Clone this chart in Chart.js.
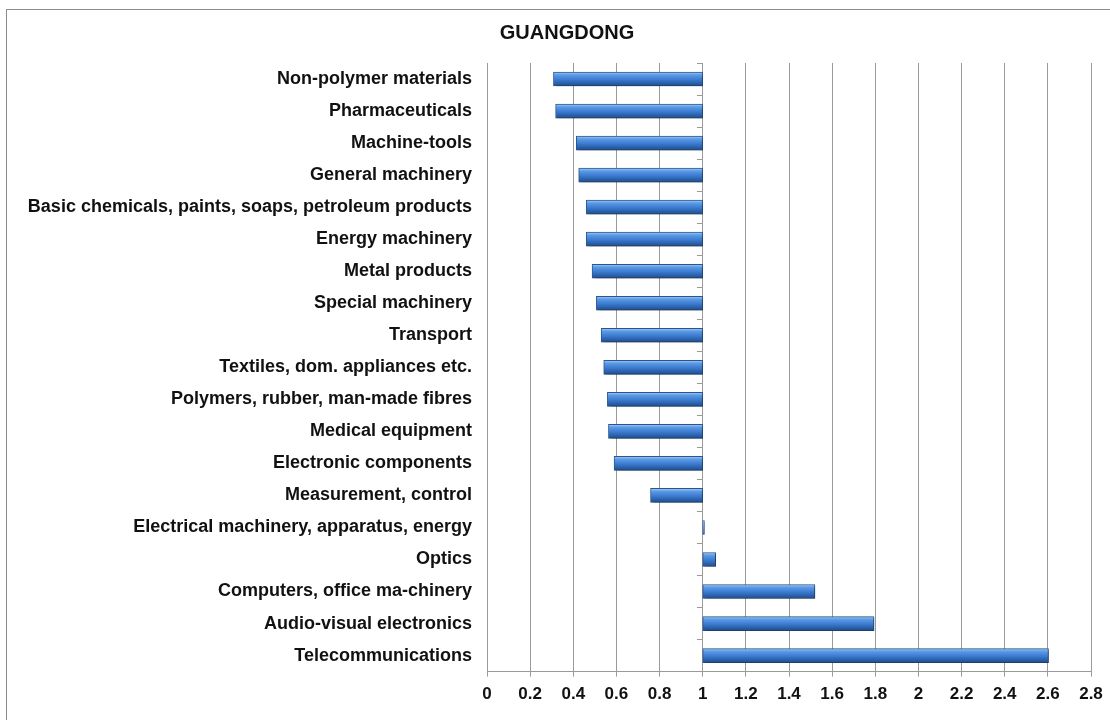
<!DOCTYPE html>
<html>
<head>
<meta charset="utf-8">
<script src="https://cdn.jsdelivr.net/npm/chart.js@4"></script>
<style>
  body { margin: 0; background: #fff; }
  #box { position: absolute; left: 6px; top: 9px; width: 1104px; height: 711px;
         border-left: 1px solid #8c8c8c; border-top: 1px solid #8c8c8c; }
</style>
</head>
<body>
<div id="box"><canvas id="grafico" width="1104" height="711"></canvas></div>
<script>
// sectors, top to bottom
const setores = [
  'Non-polymer materials', 'Pharmaceuticals', 'Machine-tools', 'General machinery',
  'Basic chemicals, paints, soaps, petroleum products', 'Energy machinery', 'Metal products',
  'Special machinery', 'Transport', 'Textiles, dom. appliances etc.',
  'Polymers, rubber, man-made fibres', 'Medical equipment', 'Electronic components',
  'Measurement, control', 'Electrical machinery, apparatus, energy', 'Optics',
  'Computers, office ma-chinery', 'Audio-visual electronics', 'Telecommunications'
];
const valores = [
  0.308, 0.318, 0.414, 0.425, 0.46, 0.46, 0.487, 0.507, 0.529, 0.541,
  0.558, 0.563, 0.589, 0.758, 1.008, 1.06, 1.52, 1.794, 2.603
];
const base = 1;
const xTicks = ['0', '0.2', '0.4', '0.6', '0.8', '1', '1.2', '1.4', '1.6', '1.8', '2', '2.2', '2.4', '2.6', '2.8'];
const titulo = 'GUANGDONG';

const cinza = '#9a9a9a';
const fonteRotulo = { family: "'Liberation Sans', Arial, sans-serif", size: 18, weight: 'bold' };
const fonteTick = { family: "'Liberation Sans Narrow', 'Arial Narrow', 'Liberation Sans', sans-serif", size: 17, weight: 'bold' };

function gradienteBarra(ctx) {
  const chart = ctx.chart;
  if (!chart.chartArea || !chart.scales.y) return '#3a7ad0';
  const yc = chart.scales.y.getPixelForValue(ctx.dataIndex);
  const g = chart.ctx.createLinearGradient(0, yc - 7, 0, yc + 7);
  g.addColorStop(0, '#a7cdf5');
  g.addColorStop(0.2, '#5d9be6');
  g.addColorStop(0.55, '#3a7ad0');
  g.addColorStop(1, '#1f4c8a');
  return g;
}

const sombra = {
  id: 'sombra',
  beforeDatasetDraw(chart) {
    const c = chart.ctx;
    c.save();
    c.shadowColor = 'rgba(0,0,0,0.35)';
    c.shadowBlur = 3;
    c.shadowOffsetX = 2;
    c.shadowOffsetY = 2;
  },
  afterDatasetDraw(chart) { chart.ctx.restore(); }
};

// title sits a bit right of the canvas centre, like the original
const tituloPlugin = {
  id: 'tituloPlugin',
  afterDraw(chart) {
    const c = chart.ctx;
    c.save();
    c.font = "bold 20px 'Liberation Sans', Arial, sans-serif";
    c.fillStyle = '#111';
    c.textAlign = 'center';
    c.textBaseline = 'middle';
    c.fillText(titulo, chart.width / 2 + 8, 23);
    c.restore();
  }
};

new Chart(document.getElementById('grafico').getContext('2d'), {
  type: 'bar',
  data: {
    labels: setores,
    datasets: [{
      data: valores.map(v => [base, v]),
      xAxisID: 'x',
      yAxisID: 'y',
      backgroundColor: gradienteBarra,
      borderColor: '#2a5791',
      borderWidth: 1,
      borderSkipped: false,
      barThickness: 14
    }]
  },
  plugins: [sombra, tituloPlugin],
  options: {
    indexAxis: 'y',
    responsive: false,
    animation: false,
    devicePixelRatio: 1,
    layout: { padding: { left: 10, right: 20, top: 53, bottom: 8 } },
    plugins: {
      legend: { display: false },
      tooltip: { enabled: false },
      title: { display: false }
    },
    scales: {
      x: {
        min: 0, max: 2.8,
        ticks: { stepSize: 0.2, color: '#111', font: fonteTick, padding: 8,
                 callback: (v, i) => xTicks[i] },
        grid: { color: cinza, tickLength: 5 },
        border: { color: cinza }
      },
      y: {
        grid: { display: false },
        border: { display: false },
        ticks: { color: '#111', font: fonteRotulo, padding: 7 },
        afterFit: s => { s.width = 470; }
      },
      y2: {
        type: 'category',
        axis: 'y',
        position: { x: base },
        grid: { drawOnChartArea: false, color: cinza, tickLength: 5, offset: true },
        border: { color: cinza },
        ticks: { display: false }
      }
    }
  }
});
</script>
</body>
</html>
